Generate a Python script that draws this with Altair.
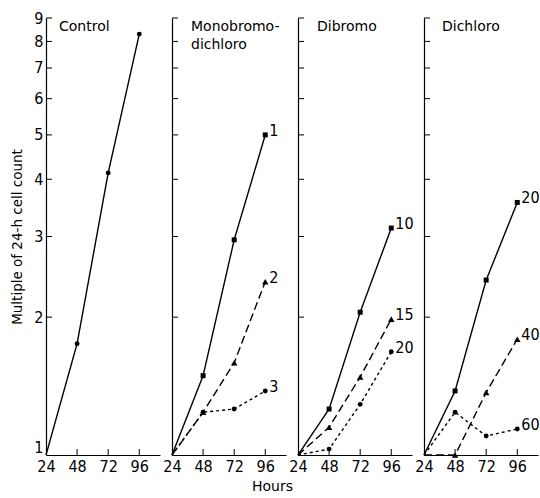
import altair as alt
import pandas as pd

# ---- data ----
hours = [24, 48, 72, 96]
control = [1.0, 1.75, 4.13, 8.3]
mbdc_1 = [1.0, 1.49, 2.95, 5.0]
mbdc_2 = [1.0, 1.24, 1.59, 2.39]
mbdc_3 = [1.0, 1.24, 1.26, 1.38]
dibromo_10 = [1.0, 1.26, 2.05, 3.13]
dibromo_15 = [1.0, 1.15, 1.48, 1.98]
dibromo_20 = [1.0, 1.03, 1.29, 1.68]
dichloro_20 = [1.0, 1.38, 2.41, 3.56]
dichloro_40 = [1.0, 1.0, 1.37, 1.79]
dichloro_60 = [1.0, 1.24, 1.10, 1.14]

panel_names = ["Control", "Monobromo-\ndichloro", "Dibromo", "Dichloro"]
y_ticks = [1, 2, 3, 4, 5, 6, 7, 8, 9]
x_ticks = [24, 48, 72, 96]

series = [
    ("Control", "c", "", control, "solid", "circle"),
    ("Monobromo-\ndichloro", "m1", "1", mbdc_1, "solid", "square"),
    ("Monobromo-\ndichloro", "m2", "2", mbdc_2, "dashed", "triangle-up"),
    ("Monobromo-\ndichloro", "m3", "3", mbdc_3, "dotted", "circle"),
    ("Dibromo", "b10", "10", dibromo_10, "solid", "square"),
    ("Dibromo", "b15", "15", dibromo_15, "dashed", "triangle-up"),
    ("Dibromo", "b20", "20", dibromo_20, "dotted", "circle"),
    ("Dichloro", "d20", "20", dichloro_20, "solid", "square"),
    ("Dichloro", "d40", "40", dichloro_40, "dashed", "triangle-up"),
    ("Dichloro", "d60", "60", dichloro_60, "dotted", "circle"),
]

rows = []
for panel, sid, label, vals, style, marker in series:
    for h, v in zip(hours, vals):
        rows.append(dict(panel=panel, series=sid, label=label, hour=h, value=v,
                         style=style, marker=marker))
df = pd.DataFrame(rows)

FONT = "Liberation Sans Narrow, DejaVu Sans Condensed, sans-serif"
TFONT = "DejaVu Sans"
W, H = 114, 437
MARKER_SIZE = {"square": 25, "triangle-up": 42, "circle": 24}

xscale = alt.Scale(domain=[24, 112], nice=False, zero=False)
yscale = alt.Scale(type="log", domain=[1, 9], nice=False)


def panel(name, title_dx, first, hours_title):
    d = df[df.panel == name]
    xaxis = alt.Axis(values=x_ticks, ticks=False, grid=False, labelFont=FONT,
                     labelFontSize=16, labelColor="black", domainColor="black",
                     domainWidth=1.2,
                     labelPadding=3, labelFlush=False, labelOverlap=False,
                     title="Hours" if hours_title else "",
                     titleFont=TFONT, titleFontSize=14,
                     titleFontWeight="normal", titleColor="black",
                     titlePadding=5, titleX=100, titleAlign="center")
    yaxis = alt.Axis(values=y_ticks, ticks=False, grid=False, labels=first,
                     labelFont=FONT, labelFontSize=16, labelColor="black",
                     labelPadding=3, labelFlush=False, labelOverlap=False,
                     labelBaseline={"condition": {"test": "datum.value == 1",
                                                  "value": "bottom"},
                                    "value": "middle"},
                     domainColor="black", domainWidth=1.2,
                     title="Multiple of 24-h cell count" if first else "",
                     titleFont=TFONT, titleFontSize=13.5,
                     titleFontWeight="normal", titleColor="black", titlePadding=9)
    X = lambda f: alt.X(f, scale=xscale, axis=xaxis)
    Y = lambda f: alt.Y(f, scale=yscale, axis=yaxis)
    base = alt.Chart(d)
    lines = base.mark_line(color="black", strokeWidth=1.4).encode(
        x=X("hour:Q"), y=Y("value:Q"),
        detail="series:N",
        strokeDash=alt.StrokeDash("style:N", legend=None, scale=alt.Scale(
            domain=["solid", "dashed", "dotted"],
            range=[[1, 0], [8, 4], [3, 3]])),
    )
    layers = [lines]
    for shp, sz in MARKER_SIZE.items():
        if (d.marker == shp).any():
            layers.append(
                base.transform_filter(f"datum.hour > 24 && datum.marker == '{shp}'")
                .mark_point(filled=True, color="black", opacity=1, shape=shp, size=sz)
                .encode(x=X("hour:Q"), y=Y("value:Q"))
            )
    labels = base.transform_filter("datum.hour == 96 && datum.label != ''").mark_text(
        align="left", baseline="bottom", dx=4, dy=4, font=FONT, fontSize=16,
        color="black").encode(
        x=X("hour:Q"), y=Y("value:Q"), text="label:N",
    )
    ytick = alt.Chart(pd.DataFrame({"value": y_ticks[1:]})).mark_rule(
        color="black", strokeWidth=1).encode(
        y=Y("value:Q"), x=alt.value(0), x2=alt.value(6))
    xtick = alt.Chart(pd.DataFrame({"hour": x_ticks[1:]})).mark_rule(
        color="black", strokeWidth=1).encode(
        x=X("hour:Q"), y=alt.value(H), y2=alt.value(H - 6))
    title = alt.Chart(pd.DataFrame({"t": [name]})).mark_text(
        align="left", baseline="top", lineBreak="\n", lineHeight=18,
        font=TFONT, fontSize=14, color="black").encode(
        text="t:N", x=alt.value(title_dx), y=alt.value(2))
    layers += [labels, ytick, xtick, title]
    return alt.layer(*layers).properties(width=W, height=H)


chart = alt.hconcat(
    panel(panel_names[0], 13, True, False),
    panel(panel_names[1], 19, False, True),
    panel(panel_names[2], 19, False, False),
    panel(panel_names[3], 18, False, False),
    spacing=12, bounds="flush",
).properties(
    padding={"left": 10, "top": 10, "right": 0, "bottom": 0},
    background="white",
).configure_view(stroke=None)

chart.save("out.html", embed_options={"renderer": "svg", "actions": False})
